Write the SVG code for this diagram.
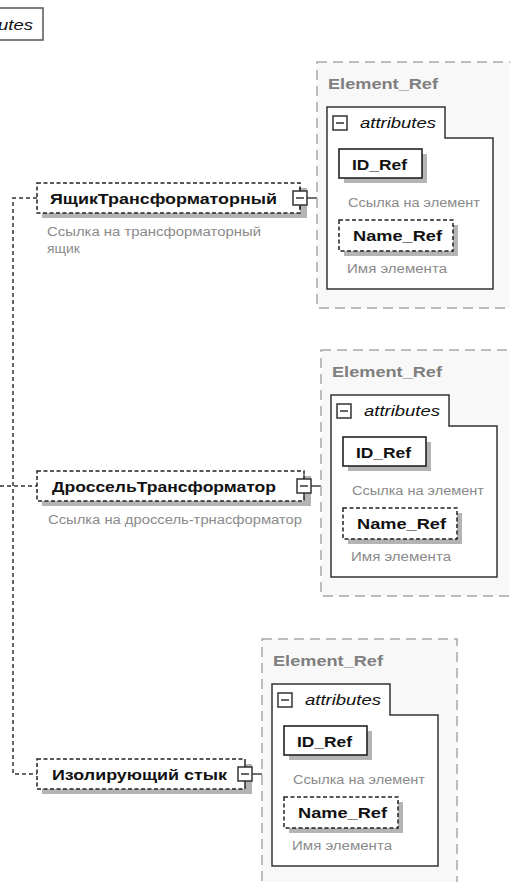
<svg xmlns="http://www.w3.org/2000/svg" width="510" height="882" viewBox="0 0 510 882">
<style>
.cont{fill:#f8f8f8;stroke:#a8a8a8;stroke-width:1.5;stroke-dasharray:10,6}
.attr{fill:#ffffff;stroke:#333333;stroke-width:1.5}
.box{fill:#ffffff;stroke:#222222;stroke-width:1.6}
.dbox{fill:#ffffff;stroke:#222222;stroke-width:1.5;stroke-dasharray:4,2.5}
.shadow{fill:#b4b4b4}
.mbox{fill:#ffffff;stroke:#333333;stroke-width:1.5}
.mline{stroke:#333333;stroke-width:1.5}
.ttl{font-family:"Liberation Sans",Arial,sans-serif;font-weight:bold;font-size:15px;fill:#7f7f7f}
.lbl{font-family:"Liberation Sans",Arial,sans-serif;font-weight:bold;font-size:15px;fill:#111111}
.it{font-family:"Liberation Sans",Arial,sans-serif;font-style:italic;font-size:14px;fill:#111111}
.desc{font-family:"Liberation Sans",Arial,sans-serif;font-size:12.5px;fill:#8a8a8a}
.tree{fill:none;stroke:#333333;stroke-width:1.5;stroke-dasharray:4,3}
.link{fill:none;stroke:#333333;stroke-width:1.4}
</style>

<g id="attributes-top">
<rect x="-60" y="8" width="103" height="32" fill="#ffffff" stroke="#555555" stroke-width="1.5"/>
<text class="it" x="-43" y="30" textLength="76" lengthAdjust="spacingAndGlyphs">attributes</text>
</g>

<g id="connectors">
<path class="tree" d="M37,198 H13 V774 H37 M0,486 H37"/>
<line class="link" x1="307" y1="198" x2="327" y2="198"/>
<line class="link" x1="311" y1="486" x2="331" y2="486"/>
<line class="link" x1="252" y1="774" x2="272" y2="774"/>
</g>

<g id="node-yashchik">
<rect class="shadow" x="42" y="188" width="265" height="30"/>
<rect class="dbox" x="37" y="183" width="263" height="30"/>
<text class="lbl" x="50" y="203.5" textLength="227" lengthAdjust="spacingAndGlyphs">ЯщикТрансформаторный</text>
<line class="mline" x1="300" y1="187" x2="300" y2="191"/>
<line class="mline" x1="300" y1="205" x2="300" y2="209"/>
<rect class="mbox" x="293" y="191" width="14" height="14"/>
<line class="mline" x1="296" y1="198" x2="304" y2="198"/>
<text class="desc" x="47" y="236" textLength="214" lengthAdjust="spacingAndGlyphs">Ссылка на трансформаторный</text>
<text class="desc" x="47" y="253" textLength="33" lengthAdjust="spacingAndGlyphs">ящик</text>
</g>

<g id="node-drossel">
<rect class="shadow" x="42" y="476" width="269" height="30"/>
<rect class="dbox" x="37" y="471" width="267" height="30"/>
<text class="lbl" x="52" y="491.5" textLength="224" lengthAdjust="spacingAndGlyphs">ДроссельТрансформатор</text>
<line class="mline" x1="304" y1="475" x2="304" y2="479"/>
<line class="mline" x1="304" y1="493" x2="304" y2="497"/>
<rect class="mbox" x="297" y="479" width="14" height="14"/>
<line class="mline" x1="300" y1="486" x2="308" y2="486"/>
<text class="desc" x="48" y="524" textLength="254" lengthAdjust="spacingAndGlyphs">Ссылка на дроссель-трнасформатор</text>
</g>

<g id="node-izol">
<rect class="shadow" x="42" y="764" width="210" height="30"/>
<rect class="dbox" x="37" y="759" width="208" height="30"/>
<text class="lbl" x="52" y="779.5" textLength="175" lengthAdjust="spacingAndGlyphs">Изолирующий стык</text>
<line class="mline" x1="245" y1="763" x2="245" y2="767"/>
<line class="mline" x1="245" y1="781" x2="245" y2="785"/>
<rect class="mbox" x="238" y="767" width="14" height="14"/>
<line class="mline" x1="241" y1="774" x2="249" y2="774"/>
</g>

<g id="element-ref-1">
<rect class="cont" x="317" y="62" width="195" height="246"/>
<text class="ttl" x="328" y="89" textLength="110" lengthAdjust="spacingAndGlyphs">Element_Ref</text>
<path class="attr" d="M327,107 H445 V138 H493 V289 H327 Z"/>
<rect class="mbox" x="333" y="116" width="14" height="14"/>
<line class="mline" x1="336" y1="123" x2="344" y2="123"/>
<text class="it" x="360" y="128" textLength="76" lengthAdjust="spacingAndGlyphs">attributes</text>
<rect class="shadow" x="344" y="154" width="83" height="29"/>
<rect class="box" x="339" y="149" width="83" height="29"/>
<text class="lbl" x="352" y="169.5" textLength="55" lengthAdjust="spacingAndGlyphs">ID_Ref</text>
<text class="desc" x="348" y="207" textLength="132" lengthAdjust="spacingAndGlyphs">Ссылка на элемент</text>
<rect class="shadow" x="344" y="225" width="114" height="31"/>
<rect class="dbox" x="339" y="220" width="114" height="31"/>
<text class="lbl" x="353" y="241" textLength="89" lengthAdjust="spacingAndGlyphs">Name_Ref</text>
<text class="desc" x="347" y="273" textLength="100" lengthAdjust="spacingAndGlyphs">Имя элемента</text>
</g>

<g id="element-ref-2" transform="translate(4,288)">
<rect class="cont" x="317" y="62" width="195" height="246"/>
<text class="ttl" x="328" y="89" textLength="110" lengthAdjust="spacingAndGlyphs">Element_Ref</text>
<path class="attr" d="M327,107 H445 V138 H493 V289 H327 Z"/>
<rect class="mbox" x="333" y="116" width="14" height="14"/>
<line class="mline" x1="336" y1="123" x2="344" y2="123"/>
<text class="it" x="360" y="128" textLength="76" lengthAdjust="spacingAndGlyphs">attributes</text>
<rect class="shadow" x="344" y="154" width="83" height="29"/>
<rect class="box" x="339" y="149" width="83" height="29"/>
<text class="lbl" x="352" y="169.5" textLength="55" lengthAdjust="spacingAndGlyphs">ID_Ref</text>
<text class="desc" x="348" y="207" textLength="132" lengthAdjust="spacingAndGlyphs">Ссылка на элемент</text>
<rect class="shadow" x="344" y="225" width="114" height="31"/>
<rect class="dbox" x="339" y="220" width="114" height="31"/>
<text class="lbl" x="353" y="241" textLength="89" lengthAdjust="spacingAndGlyphs">Name_Ref</text>
<text class="desc" x="347" y="273" textLength="100" lengthAdjust="spacingAndGlyphs">Имя элемента</text>
</g>

<g id="element-ref-3" transform="translate(-55,577)">
<rect class="cont" x="317" y="62" width="195" height="246"/>
<text class="ttl" x="328" y="89" textLength="110" lengthAdjust="spacingAndGlyphs">Element_Ref</text>
<path class="attr" d="M327,107 H445 V138 H493 V289 H327 Z"/>
<rect class="mbox" x="333" y="116" width="14" height="14"/>
<line class="mline" x1="336" y1="123" x2="344" y2="123"/>
<text class="it" x="360" y="128" textLength="76" lengthAdjust="spacingAndGlyphs">attributes</text>
<rect class="shadow" x="344" y="154" width="83" height="29"/>
<rect class="box" x="339" y="149" width="83" height="29"/>
<text class="lbl" x="352" y="169.5" textLength="55" lengthAdjust="spacingAndGlyphs">ID_Ref</text>
<text class="desc" x="348" y="207" textLength="132" lengthAdjust="spacingAndGlyphs">Ссылка на элемент</text>
<rect class="shadow" x="344" y="225" width="114" height="31"/>
<rect class="dbox" x="339" y="220" width="114" height="31"/>
<text class="lbl" x="353" y="241" textLength="89" lengthAdjust="spacingAndGlyphs">Name_Ref</text>
<text class="desc" x="347" y="273" textLength="100" lengthAdjust="spacingAndGlyphs">Имя элемента</text>
</g>
</svg>
